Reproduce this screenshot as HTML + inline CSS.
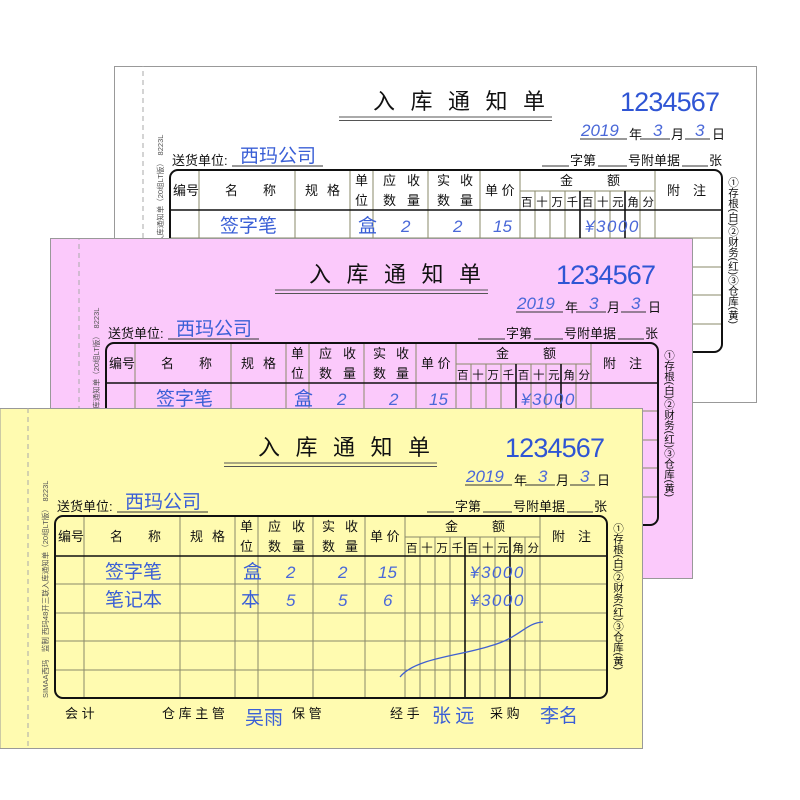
<!DOCTYPE html>
<html><head><meta charset="utf-8"><style>
html,body{margin:0;padding:0;background:#fff;}
svg{display:block;}
text{font-family:"Liberation Sans","Noto Sans CJK SC",sans-serif;}
.k{font-size:13px;fill:#111;}
.b{fill:#3a5fd6;font-family:"Noto Sans CJK SC",sans-serif;font-size:19px;}
.n{fill:#4a68d8;font-style:italic;font-size:17px;font-family:"Liberation Sans",sans-serif;}
.g{stroke:#8a8a6a;stroke-width:1;}
.t{stroke:#111;stroke-width:1.6;}
.r{font-size:10.5px;fill:#111;writing-mode:vertical-rl;}
</style></head><body>
<svg width="800" height="800" viewBox="0 0 800 800" xmlns="http://www.w3.org/2000/svg">
<defs>
<clipPath id="cw"><rect x="114" y="66" width="643" height="336"/></clipPath>
<clipPath id="cp"><rect x="50" y="239" width="643" height="340"/></clipPath>
<clipPath id="cy"><rect x="0" y="408" width="643" height="340"/></clipPath>
</defs>

<!-- WHITE -->
<rect x="114.5" y="66.5" width="642" height="336" fill="#ffffff" stroke="#999"/>
<g clip-path="url(#cw)"><g transform="translate(115,62)">
<line x1="28" y1="0" x2="28" y2="340" stroke="#aaa" stroke-dasharray="5 4"/>
<text x="258" y="47" font-size="22" textLength="172" fill="#111">入库通知单</text>
<line x1="224" y1="55" x2="437" y2="55" stroke="#555"/><line x1="224" y1="58.5" x2="437" y2="58.5" stroke="#555"/>
<text x="505" y="49" font-size="27" fill="#2f55d4" textLength="100">1234567</text>
<text x="466" y="74" class="n">2019</text><line x1="465" y1="77" x2="512" y2="77" stroke="#333"/>
<text x="514" y="77" class="k">年</text><text x="538" y="74" class="n">3</text><line x1="525" y1="77" x2="555" y2="77" stroke="#333"/>
<text x="556" y="77" class="k">月</text><text x="580" y="74" class="n">3</text><line x1="570" y1="77" x2="595" y2="77" stroke="#333"/>
<text x="597" y="77" class="k">日</text>
<text x="57" y="103" class="k">送货单位:</text><text x="125" y="100" class="b">西玛公司</text><line x1="117" y1="104" x2="208" y2="104" stroke="#333"/>
<line x1="427" y1="104" x2="454" y2="104" stroke="#333"/><text x="455" y="103" class="k">字第</text>
<line x1="483" y1="104" x2="512" y2="104" stroke="#333"/><text x="513" y="103" class="k">号附单据</text>
<line x1="567" y1="104" x2="593" y2="104" stroke="#333"/><text x="594" y="103" class="k">张</text>
<g>
<line x1="55" y1="176" x2="607" y2="176" class="g"/><line x1="55" y1="205" x2="607" y2="205" class="g"/><line x1="55" y1="233" x2="607" y2="233" class="g"/><line x1="55" y1="262" x2="607" y2="262" class="g"/>
<line x1="84" y1="108" x2="84" y2="290" class="g"/><line x1="180" y1="108" x2="180" y2="290" class="g"/><line x1="235" y1="108" x2="235" y2="290" class="g"/><line x1="258" y1="108" x2="258" y2="290" class="g"/><line x1="313" y1="108" x2="313" y2="290" class="g"/><line x1="365" y1="108" x2="365" y2="290" class="g"/>
<line x1="405" y1="108" x2="405" y2="290" class="g"/><line x1="540" y1="108" x2="540" y2="290" class="g"/><line x1="405" y1="129" x2="540" y2="129" class="g"/>
<line x1="420" y1="129" x2="420" y2="290" class="g"/><line x1="435" y1="129" x2="435" y2="290" class="g"/><line x1="450" y1="129" x2="450" y2="290" class="g"/><line x1="480" y1="129" x2="480" y2="290" class="g"/><line x1="495" y1="129" x2="495" y2="290" class="g"/><line x1="525" y1="129" x2="525" y2="290" class="g"/>
<line x1="465" y1="129" x2="465" y2="290" class="t"/><line x1="510" y1="129" x2="510" y2="290" class="t"/>
<line x1="55" y1="148" x2="607" y2="148" class="t"/>
<rect x="55" y="108" width="552" height="182" rx="8" fill="none" stroke="#111" stroke-width="2"/>
</g>
<text x="58" y="133" class="k">编号</text><text x="110" y="133" class="k">名</text><text x="148" y="133" class="k">称</text><text x="190" y="133" class="k">规</text><text x="212" y="133" class="k">格</text>
<text x="240" y="123" class="k">单</text><text x="240" y="143" class="k">位</text>
<text x="268" y="123" class="k">应</text><text x="292" y="123" class="k">收</text><text x="268" y="143" class="k">数</text><text x="292" y="143" class="k">量</text>
<text x="322" y="123" class="k">实</text><text x="345" y="123" class="k">收</text><text x="322" y="143" class="k">数</text><text x="345" y="143" class="k">量</text>
<text x="370" y="133" class="k">单 价</text><text x="445" y="123" class="k">金</text><text x="492" y="123" class="k">额</text>
<text x="406" y="144" font-size="11.5" fill="#111" textLength="133">百十万千百十元角分</text>
<text x="552" y="133" class="k">附　注</text>
<text x="105" y="170" class="b">签字笔</text><text x="243" y="170" class="b">盒</text><text x="286" y="170" class="n">2</text><text x="338" y="170" class="n">2</text><text x="378" y="170" class="n">15</text><text x="470" y="170" class="n" letter-spacing="1.5">¥3000</text>
<text x="618" y="115" class="r">①存根(白)②财务(红)③仓库(黄)</text>
<text transform="translate(48,290) rotate(-90)" font-size="7.5" fill="#555">SIMAA西玛　监制 西玛48开三联入库通知单（20组LT版）　8223L</text>
</g></g>

<!-- PINK -->
<rect x="50.5" y="238.5" width="642" height="340" fill="#fbc9fb" stroke="#999"/>
<g clip-path="url(#cp)"><g transform="translate(51,235)">
<line x1="28" y1="0" x2="28" y2="340" stroke="#aaa" stroke-dasharray="5 4"/>
<text x="258" y="47" font-size="22" textLength="172" fill="#111">入库通知单</text>
<line x1="224" y1="55" x2="437" y2="55" stroke="#555"/><line x1="224" y1="58.5" x2="437" y2="58.5" stroke="#555"/>
<text x="505" y="49" font-size="27" fill="#2f55d4" textLength="100">1234567</text>
<text x="466" y="74" class="n">2019</text><line x1="465" y1="77" x2="512" y2="77" stroke="#333"/>
<text x="514" y="77" class="k">年</text><text x="538" y="74" class="n">3</text><line x1="525" y1="77" x2="555" y2="77" stroke="#333"/>
<text x="556" y="77" class="k">月</text><text x="580" y="74" class="n">3</text><line x1="570" y1="77" x2="595" y2="77" stroke="#333"/>
<text x="597" y="77" class="k">日</text>
<text x="57" y="103" class="k">送货单位:</text><text x="125" y="100" class="b">西玛公司</text><line x1="117" y1="104" x2="208" y2="104" stroke="#333"/>
<line x1="427" y1="104" x2="454" y2="104" stroke="#333"/><text x="455" y="103" class="k">字第</text>
<line x1="483" y1="104" x2="512" y2="104" stroke="#333"/><text x="513" y="103" class="k">号附单据</text>
<line x1="567" y1="104" x2="593" y2="104" stroke="#333"/><text x="594" y="103" class="k">张</text>
<g>
<line x1="55" y1="176" x2="607" y2="176" class="g"/><line x1="55" y1="205" x2="607" y2="205" class="g"/><line x1="55" y1="233" x2="607" y2="233" class="g"/><line x1="55" y1="262" x2="607" y2="262" class="g"/>
<line x1="84" y1="108" x2="84" y2="290" class="g"/><line x1="180" y1="108" x2="180" y2="290" class="g"/><line x1="235" y1="108" x2="235" y2="290" class="g"/><line x1="258" y1="108" x2="258" y2="290" class="g"/><line x1="313" y1="108" x2="313" y2="290" class="g"/><line x1="365" y1="108" x2="365" y2="290" class="g"/>
<line x1="405" y1="108" x2="405" y2="290" class="g"/><line x1="540" y1="108" x2="540" y2="290" class="g"/><line x1="405" y1="129" x2="540" y2="129" class="g"/>
<line x1="420" y1="129" x2="420" y2="290" class="g"/><line x1="435" y1="129" x2="435" y2="290" class="g"/><line x1="450" y1="129" x2="450" y2="290" class="g"/><line x1="480" y1="129" x2="480" y2="290" class="g"/><line x1="495" y1="129" x2="495" y2="290" class="g"/><line x1="525" y1="129" x2="525" y2="290" class="g"/>
<line x1="465" y1="129" x2="465" y2="290" class="t"/><line x1="510" y1="129" x2="510" y2="290" class="t"/>
<line x1="55" y1="148" x2="607" y2="148" class="t"/>
<rect x="55" y="108" width="552" height="182" rx="8" fill="none" stroke="#111" stroke-width="2"/>
</g>
<text x="58" y="133" class="k">编号</text><text x="110" y="133" class="k">名</text><text x="148" y="133" class="k">称</text><text x="190" y="133" class="k">规</text><text x="212" y="133" class="k">格</text>
<text x="240" y="123" class="k">单</text><text x="240" y="143" class="k">位</text>
<text x="268" y="123" class="k">应</text><text x="292" y="123" class="k">收</text><text x="268" y="143" class="k">数</text><text x="292" y="143" class="k">量</text>
<text x="322" y="123" class="k">实</text><text x="345" y="123" class="k">收</text><text x="322" y="143" class="k">数</text><text x="345" y="143" class="k">量</text>
<text x="370" y="133" class="k">单 价</text><text x="445" y="123" class="k">金</text><text x="492" y="123" class="k">额</text>
<text x="406" y="144" font-size="11.5" fill="#111" textLength="133">百十万千百十元角分</text>
<text x="552" y="133" class="k">附　注</text>
<text x="105" y="170" class="b">签字笔</text><text x="243" y="170" class="b">盒</text><text x="286" y="170" class="n">2</text><text x="338" y="170" class="n">2</text><text x="378" y="170" class="n">15</text><text x="470" y="170" class="n" letter-spacing="1.5">¥3000</text>
<text x="618" y="115" class="r">①存根(白)②财务(红)③仓库(黄)</text>
<text transform="translate(48,290) rotate(-90)" font-size="7.5" fill="#555">SIMAA西玛　监制 西玛48开三联入库通知单（20组LT版）　8223L</text>
</g></g>

<!-- YELLOW -->
<rect x="0" y="408.5" width="642.5" height="340" fill="#fffbb0" stroke="#999"/>
<g clip-path="url(#cy)"><g transform="translate(0,408)">
<line x1="28" y1="0" x2="28" y2="340" stroke="#aaa" stroke-dasharray="5 4"/>
<text x="258" y="47" font-size="22" textLength="172" fill="#111">入库通知单</text>
<line x1="224" y1="55" x2="437" y2="55" stroke="#555"/><line x1="224" y1="58.5" x2="437" y2="58.5" stroke="#555"/>
<text x="505" y="49" font-size="27" fill="#2f55d4" textLength="100">1234567</text>
<text x="466" y="74" class="n">2019</text><line x1="465" y1="77" x2="512" y2="77" stroke="#333"/>
<text x="514" y="77" class="k">年</text><text x="538" y="74" class="n">3</text><line x1="525" y1="77" x2="555" y2="77" stroke="#333"/>
<text x="556" y="77" class="k">月</text><text x="580" y="74" class="n">3</text><line x1="570" y1="77" x2="595" y2="77" stroke="#333"/>
<text x="597" y="77" class="k">日</text>
<text x="57" y="103" class="k">送货单位:</text><text x="125" y="100" class="b">西玛公司</text><line x1="117" y1="104" x2="208" y2="104" stroke="#333"/>
<line x1="427" y1="104" x2="454" y2="104" stroke="#333"/><text x="455" y="103" class="k">字第</text>
<line x1="483" y1="104" x2="512" y2="104" stroke="#333"/><text x="513" y="103" class="k">号附单据</text>
<line x1="567" y1="104" x2="593" y2="104" stroke="#333"/><text x="594" y="103" class="k">张</text>
<g>
<line x1="55" y1="176" x2="607" y2="176" class="g"/><line x1="55" y1="205" x2="607" y2="205" class="g"/><line x1="55" y1="233" x2="607" y2="233" class="g"/><line x1="55" y1="262" x2="607" y2="262" class="g"/>
<line x1="84" y1="108" x2="84" y2="290" class="g"/><line x1="180" y1="108" x2="180" y2="290" class="g"/><line x1="235" y1="108" x2="235" y2="290" class="g"/><line x1="258" y1="108" x2="258" y2="290" class="g"/><line x1="313" y1="108" x2="313" y2="290" class="g"/><line x1="365" y1="108" x2="365" y2="290" class="g"/>
<line x1="405" y1="108" x2="405" y2="290" class="g"/><line x1="540" y1="108" x2="540" y2="290" class="g"/><line x1="405" y1="129" x2="540" y2="129" class="g"/>
<line x1="420" y1="129" x2="420" y2="290" class="g"/><line x1="435" y1="129" x2="435" y2="290" class="g"/><line x1="450" y1="129" x2="450" y2="290" class="g"/><line x1="480" y1="129" x2="480" y2="290" class="g"/><line x1="495" y1="129" x2="495" y2="290" class="g"/><line x1="525" y1="129" x2="525" y2="290" class="g"/>
<line x1="465" y1="129" x2="465" y2="290" class="t"/><line x1="510" y1="129" x2="510" y2="290" class="t"/>
<line x1="55" y1="148" x2="607" y2="148" class="t"/>
<rect x="55" y="108" width="552" height="182" rx="8" fill="none" stroke="#111" stroke-width="2"/>
</g>
<text x="58" y="133" class="k">编号</text><text x="110" y="133" class="k">名</text><text x="148" y="133" class="k">称</text><text x="190" y="133" class="k">规</text><text x="212" y="133" class="k">格</text>
<text x="240" y="123" class="k">单</text><text x="240" y="143" class="k">位</text>
<text x="268" y="123" class="k">应</text><text x="292" y="123" class="k">收</text><text x="268" y="143" class="k">数</text><text x="292" y="143" class="k">量</text>
<text x="322" y="123" class="k">实</text><text x="345" y="123" class="k">收</text><text x="322" y="143" class="k">数</text><text x="345" y="143" class="k">量</text>
<text x="370" y="133" class="k">单 价</text><text x="445" y="123" class="k">金</text><text x="492" y="123" class="k">额</text>
<text x="406" y="144" font-size="11.5" fill="#111" textLength="133">百十万千百十元角分</text>
<text x="552" y="133" class="k">附　注</text>
<text x="105" y="170" class="b">签字笔</text><text x="243" y="170" class="b">盒</text><text x="286" y="170" class="n">2</text><text x="338" y="170" class="n">2</text><text x="378" y="170" class="n">15</text><text x="470" y="170" class="n" letter-spacing="1.5">¥3000</text>
<text x="105" y="198" class="b">笔记本</text><text x="241" y="198" class="b">本</text><text x="286" y="198" class="n">5</text><text x="338" y="198" class="n">5</text><text x="383" y="198" class="n">6</text><text x="470" y="198" class="n" letter-spacing="1.5">¥3000</text>
<path d="M400,269 C415,250 460,248 490,238 C520,230 525,215 543,214" fill="none" stroke="#4060d0" stroke-width="1.3"/>
<text x="65" y="310" class="k">会 计</text><text x="162" y="310" class="k">仓 库 主 管</text><text x="245" y="316" class="b" font-size="13">吴雨</text><text x="292" y="310" class="k">保 管</text><text x="390" y="310" class="k">经 手</text><text x="432" y="314" class="b" font-size="13">张 远</text><text x="490" y="310" class="k">采 购</text><text x="540" y="314" class="b" font-size="13">李名</text>
<text x="618" y="115" class="r">①存根(白)②财务(红)③仓库(黄)</text>
<text transform="translate(48,290) rotate(-90)" font-size="7.5" fill="#555">SIMAA西玛　监制 西玛48开三联入库通知单（20组LT版）　8223L</text>
</g></g>
</svg>
</body></html>
